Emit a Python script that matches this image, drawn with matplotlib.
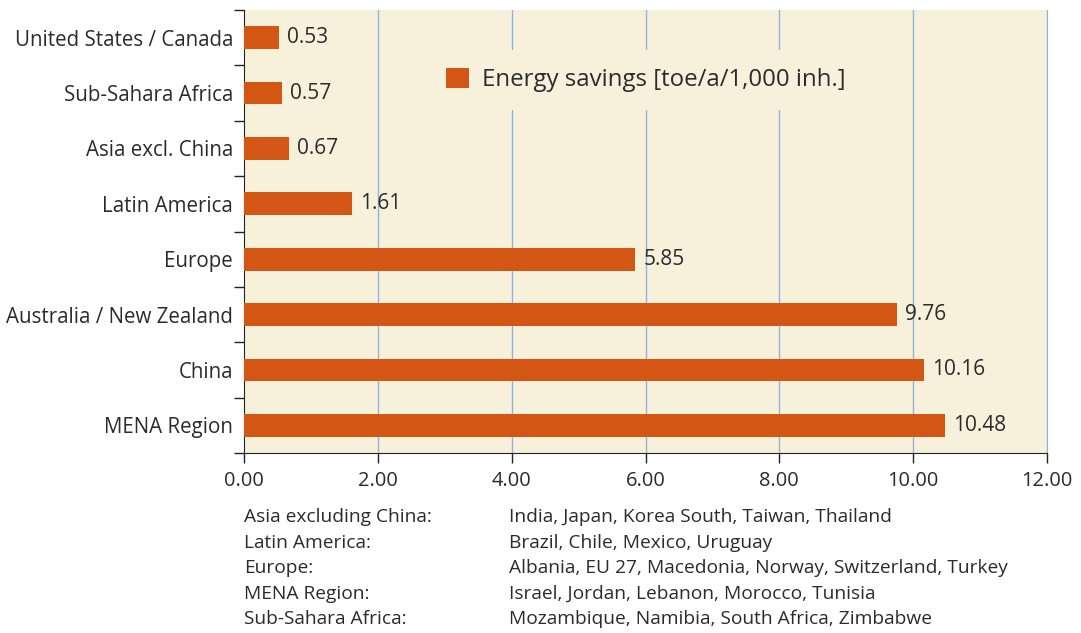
import matplotlib
matplotlib.use("Agg")
import matplotlib.pyplot as plt
from matplotlib.patches import Patch

regions = ["United States / Canada", "Sub-Sahara Africa", "Asia excl. China",
           "Latin America", "Europe", "Australia / New Zealand", "China", "MENA Region"]
savings = [0.53, 0.57, 0.67, 1.61, 5.85, 9.76, 10.16, 10.48]
x_ticks = [0, 2, 4, 6, 8, 10, 12]
legend_label = "Energy savings [toe/a/1,000 inh.]"

note_groups = ["Asia excluding China:", "Latin America:", "Europe:",
               "MENA Region:", "Sub-Sahara Africa:"]
note_members = ["India, Japan, Korea South, Taiwan, Thailand",
                "Brazil, Chile, Mexico, Uruguay",
                "Albania, EU 27, Macedonia, Norway, Switzerland, Turkey",
                "Israel, Jordan, Lebanon, Morocco, Tunisia",
                "Mozambique, Namibia, South Africa, Zimbabwe"]

BAR = "#d35615"
BG = "#f7f1dc"
GRID = "#8fb6da"
TEXT = "#2b2b2b"

plt.rcParams["font.family"] = ["Open Sans", "DejaVu Sans"]

fig = plt.figure(figsize=(10.81, 6.33), dpi=100)
ax = fig.add_axes([244 / 1081, 1 - 453 / 633, 803 / 1081, 443 / 633])
ax.set_facecolor(BG)

ypos = list(range(len(regions)))
ax.barh(ypos, savings, height=0.41, color=BAR, zorder=3)
for y, v in zip(ypos, savings):
    ax.text(v + 0.12, y, f"{v:.2f}", va="center", ha="left",
            fontsize=15, color=TEXT, zorder=4)

ax.set_xlim(0, 12)
ax.set_ylim(len(regions) - 0.5, -0.5)
ax.set_xticks(x_ticks)
ax.set_xticklabels([f"{t:.2f}" for t in x_ticks], fontsize=14.4, color=TEXT)
ax.set_yticks(ypos)
ax.set_yticklabels(regions, fontsize=14.8, color=TEXT)
ax.tick_params(axis="y", length=0, pad=8)
ax.set_yticks([i - 0.5 for i in range(len(regions) + 1)], minor=True)
ax.tick_params(axis="y", which="minor", length=7, width=1, color="#222222", direction="out")
ax.tick_params(axis="x", length=7, width=1, color="#222222", direction="out", pad=6)

for xv in x_ticks[1:]:
    ax.axvline(xv, color=GRID, lw=1, zorder=1)

ax.spines["top"].set_visible(False)
ax.spines["right"].set_color(GRID)
ax.spines["left"].set_color("#222222")
ax.spines["bottom"].set_color("#222222")

leg = ax.legend(handles=[Patch(facecolor=BAR, edgecolor="none")], labels=[legend_label],
                loc="center left", bbox_to_anchor=(0.214, 0.842), frameon=True,
                fontsize=17.3, handlelength=0.95, handleheight=0.95, handletextpad=0.55,
                borderpad=0.75, labelcolor=TEXT)
leg.get_frame().set_facecolor(BG)
leg.get_frame().set_edgecolor("none")
leg.get_frame().set_alpha(1)
leg.set_zorder(5)

for i, (g, m) in enumerate(zip(note_groups, note_members)):
    ypix = 517 + i * 25.6
    fig.text(244 / 1081, 1 - ypix / 633, g, fontsize=13.8, color=TEXT, va="center")
    fig.text(509 / 1081, 1 - ypix / 633, m, fontsize=13.8, color=TEXT, va="center")

fig.savefig("out.png", dpi=100)
